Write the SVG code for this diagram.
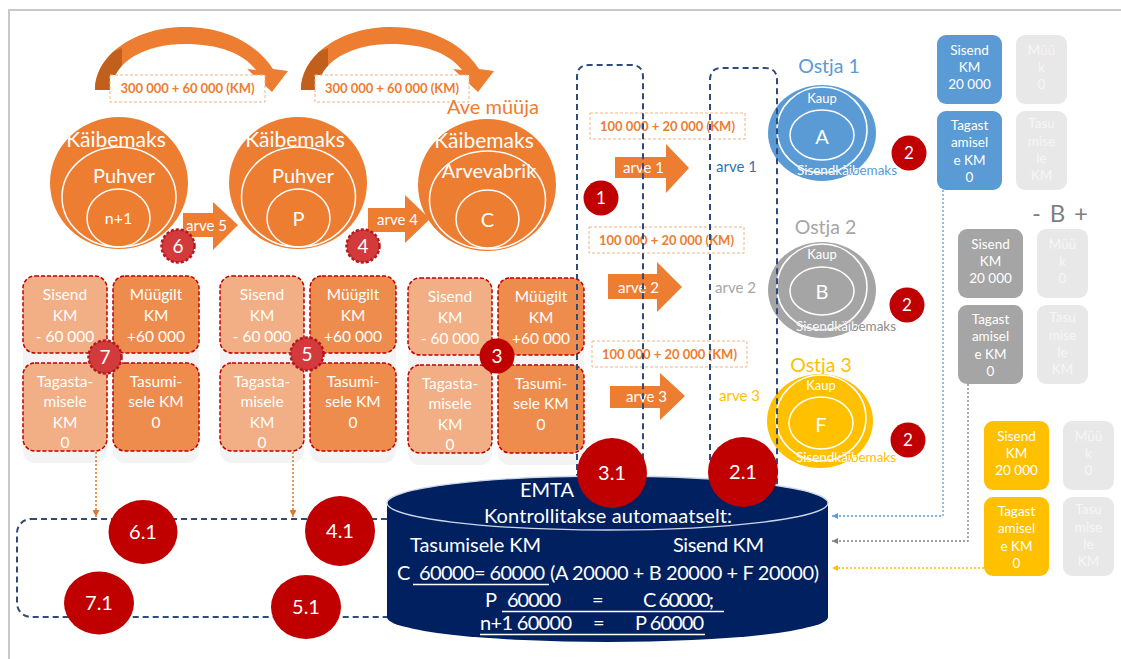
<svg xmlns="http://www.w3.org/2000/svg" width="1121" height="659" viewBox="0 0 1121 659">
<defs>
<style>
text { font-family: Lato, "Liberation Sans", sans-serif; }
.mid { text-anchor: middle; }
.wt { fill: #fff; }
.orange { fill: #ed7d31; }
.ring { fill: none; stroke: #fff; stroke-width: 1.5; }
.lblbox { fill: #fff; stroke: #f4b183; stroke-width: 1; stroke-dasharray: 3 2; }
.lbl { font-size: 13px; font-weight: 700; fill: #ed7d31; text-anchor: middle; }
.back { fill: #f3f3f3; }
.tl { fill: #f2ae84; stroke: #c00000; stroke-width: 1.5; stroke-dasharray: 4 2; }
.tr { fill: #ee8c4d; stroke: #c00000; stroke-width: 1.5; stroke-dasharray: 4 2; }
.tt { font-size: 15.5px; fill: #fff; text-anchor: middle; }
.bt { font-size: 13.5px; fill: #fff; text-anchor: middle; }
.ft { font-size: 13.5px; fill: #f6f6f6; text-anchor: middle; }
.faint { fill: #e8e8e8; }
.navy { fill: none; stroke: #2f4b7c; stroke-width: 2; stroke-dasharray: 6 4; }
.red { fill: #c00000; }
.redd { fill: #d23a3c; stroke: #b3191e; stroke-width: 2.5; stroke-dasharray: 3 2; }
.num { fill: #fff; text-anchor: middle; }
.cyl { fill: #002060; }
.ct { font-size: 20px; fill: #fff; }
.ul { stroke: #fff; stroke-width: 1.3; }
</style>
<marker id="ah-orange" viewBox="0 0 6 6" refX="6" refY="3" markerWidth="7" markerHeight="7" markerUnits="userSpaceOnUse" orient="auto">
  <path d="M0 0 L6 3 L0 6 Z" fill="#d97a2e"/>
</marker>
<marker id="ah-blue" viewBox="0 0 6 6" refX="6" refY="3" markerWidth="6" markerHeight="6" markerUnits="userSpaceOnUse" orient="auto">
  <path d="M0 0 L6 3 L0 6 Z" fill="#5b9bd5"/>
</marker>
<marker id="ah-gray" viewBox="0 0 6 6" refX="6" refY="3" markerWidth="6" markerHeight="6" markerUnits="userSpaceOnUse" orient="auto">
  <path d="M0 0 L6 3 L0 6 Z" fill="#7f7f7f"/>
</marker>
<marker id="ah-gold" viewBox="0 0 6 6" refX="6" refY="3" markerWidth="6" markerHeight="6" markerUnits="userSpaceOnUse" orient="auto">
  <path d="M0 0 L6 3 L0 6 Z" fill="#ffc000"/>
</marker>
<clipPath id="curl-back"><polygon points="88,95 122,95 122,48 92,60"/></clipPath>
<!-- curved transfer arrow above the seller circles -->
<g id="curl">
  <path id="curl-band" class="orange" d="M 95 90 C 95 55, 135 27, 185 27 C 228 27, 258 46, 273 69 L 288 71 L 272 92 L 247 69 L 256 70 C 243 53, 218 44, 185 44 C 145 44, 112 62, 112 90 Z"/>
  <path fill="#c1601d" clip-path="url(#curl-back)" d="M 95 90 C 95 55, 135 27, 185 27 L 185 44 C 145 44, 112 62, 112 90 Z"/>
</g>
<!-- one 2x2 block of VAT tiles -->
<g id="kmtiles">
  <rect class="back" x="23" y="300" width="84" height="163" rx="12"/>
  <rect class="back" x="113" y="300" width="86" height="163" rx="12"/>
  <rect class="tl" x="23" y="276" width="84" height="77" rx="12"/>
  <rect class="tr" x="113" y="276" width="86" height="77" rx="12"/>
  <rect class="tl" x="23" y="363" width="84" height="88" rx="12"/>
  <rect class="tr" x="113" y="363" width="86" height="88" rx="12"/>
  <text class="tt" x="65" y="300">Sisend</text>
  <text class="tt" x="65" y="321">KM</text>
  <text class="tt" x="65" y="342">- 60 000</text>
  <text class="tt" x="156" y="300">Müügilt</text>
  <text class="tt" x="156" y="321">KM</text>
  <text class="tt" x="156" y="342">+60 000</text>
  <text class="tt" x="65" y="387">Tagasta-</text>
  <text class="tt" x="65" y="407">misele</text>
  <text class="tt" x="65" y="428">KM</text>
  <text class="tt" x="65" y="448">0</text>
  <text class="tt" x="156" y="387">Tasumi-</text>
  <text class="tt" x="156" y="407">sele KM</text>
  <text class="tt" x="156" y="428">0</text>
</g>
<!-- buyer's VAT tiles, fill set per buyer -->
<g id="buyertiles">
  <rect x="937" y="35" width="65" height="69" rx="9"/>
  <rect x="937" y="111" width="65" height="79" rx="9"/>
  <rect class="faint" x="1016" y="35" width="51" height="69" rx="9"/>
  <rect class="faint" x="1016" y="111" width="51" height="79" rx="9"/>
  <text class="bt" x="969.5" y="55">Sisend</text>
  <text class="bt" x="969.5" y="72">KM</text>
  <text class="bt" x="969.5" y="89">20 000</text>
  <text class="bt" x="969.5" y="130">Tagast</text>
  <text class="bt" x="969.5" y="147">amisel</text>
  <text class="bt" x="969.5" y="165">e KM</text>
  <text class="bt" x="969.5" y="182">0</text>
  <text class="ft" x="1041.5" y="55">Müü</text>
  <text class="ft" x="1041.5" y="72">k</text>
  <text class="ft" x="1041.5" y="89">0</text>
  <text class="ft" x="1041.5" y="128">Tasu</text>
  <text class="ft" x="1041.5" y="146">mise</text>
  <text class="ft" x="1041.5" y="163">le</text>
  <text class="ft" x="1041.5" y="180">KM</text>
</g>
<clipPath id="clipA"><ellipse cx="822" cy="133" rx="54" ry="48"/></clipPath>
<clipPath id="clipB"><ellipse cx="822" cy="290" rx="54" ry="48"/></clipPath>
<clipPath id="clipF"><ellipse cx="820" cy="421" rx="53" ry="47"/></clipPath>
</defs>

<!-- page frame -->
<rect x="9" y="10" width="1130" height="670" fill="#fff" stroke="#c8c8c8" stroke-width="2"/>

<!-- transfers between sellers -->
<g id="transfer-1">
  <use href="#curl"/>
  <rect class="lblbox" x="110" y="75" width="155" height="27"/>
  <text class="lbl" x="187.5" y="93" textLength="134">300 000 + 60 000 (KM)</text>
</g>
<g id="transfer-2">
  <use href="#curl" transform="translate(206,0)"/>
  <rect class="lblbox" x="315" y="75" width="154" height="27"/>
  <text class="lbl" x="392" y="93" textLength="134">300 000 + 60 000 (KM)</text>
</g>

<!-- VAT tile blocks -->
<g id="km-n1"><use href="#kmtiles"/></g>
<g id="km-p"><use href="#kmtiles" transform="translate(197,0)"/></g>
<g id="km-c"><use href="#kmtiles" transform="translate(385,2)"/></g>

<!-- seller n+1 -->
<g id="seller-n1">
  <ellipse class="orange" cx="119" cy="183" rx="69" ry="66"/>
  <ellipse class="ring" cx="119" cy="197" rx="57" ry="50"/>
  <ellipse class="ring" cx="118.5" cy="218" rx="31.5" ry="29"/>
  <text class="wt mid" x="116" y="147" font-size="21">Käibemaks</text>
  <text class="wt mid" x="124" y="183" font-size="20">Puhver</text>
  <text class="wt mid" x="118.5" y="224" font-size="16">n+1</text>
</g>
<!-- seller P -->
<g id="seller-p">
  <ellipse class="orange" cx="298" cy="183" rx="69" ry="66"/>
  <ellipse class="ring" cx="298.5" cy="197" rx="57" ry="50"/>
  <ellipse class="ring" cx="298.5" cy="218" rx="31.5" ry="29"/>
  <text class="wt mid" x="295" y="147" font-size="21">Käibemaks</text>
  <text class="wt mid" x="303" y="183" font-size="20">Puhver</text>
  <text class="wt mid" x="298.5" y="226" font-size="20">P</text>
</g>
<!-- seller C -->
<g id="seller-c">
  <text class="mid" x="493" y="114" font-size="20" fill="#ed7d31">Ave müüja</text>
  <ellipse class="orange" cx="487" cy="185" rx="69" ry="66"/>
  <ellipse class="ring" cx="487.5" cy="200" rx="58" ry="49"/>
  <ellipse class="ring" cx="487.5" cy="219" rx="31.5" ry="29"/>
  <text class="wt mid" x="484" y="148" font-size="21">Käibemaks</text>
  <text class="wt mid" x="489" y="178" font-size="20">Arvevabrik</text>
  <text class="wt mid" x="487.5" y="227" font-size="20">C</text>
</g>

<!-- invoice arrows between sellers -->
<g id="arve-5">
  <polygon class="orange" points="183,213 213,213 213,202 238,225 213,250 213,237 183,237"/>
  <text class="wt" x="186" y="231" font-size="15">arve 5</text>
</g>
<g id="arve-4">
  <polygon class="orange" points="368,208 405,208 405,195 430,219 405,243 405,232 368,232"/>
  <text class="wt" x="377" y="225" font-size="15">arve 4</text>
</g>

<!-- invoices to buyers -->
<g id="invoices">
  <rect class="lblbox" x="590" y="113" width="155" height="26"/>
  <text class="lbl" x="667.5" y="131" textLength="135">100 000 + 20 000 (KM)</text>
  <rect class="lblbox" x="589" y="227" width="155" height="26"/>
  <text class="lbl" x="666.5" y="245" textLength="135">100 000 + 20 000 (KM)</text>
  <rect class="lblbox" x="592" y="341" width="155" height="26"/>
  <text class="lbl" x="669.5" y="359" textLength="135">100 000 + 20 000 (KM)</text>

  <polygon class="orange" points="615,157 666,157 666,144 689,168 666,193 666,178 615,178"/>
  <text class="wt" x="623" y="173" font-size="15">arve 1</text>
  <polygon class="orange" points="608,274 657,274 657,262 682,287 657,312 657,299 608,299"/>
  <text class="wt" x="618" y="293" font-size="15">arve 2</text>
  <polygon class="orange" points="610,386 660,386 660,373 685,396 660,420 660,408 610,408"/>
  <text class="wt" x="626" y="402" font-size="15">arve 3</text>

  <text x="716" y="172" font-size="15" fill="#2e75b6">arve 1</text>
  <text x="715" y="293" font-size="15" fill="#a6a6a6">arve 2</text>
  <text x="719" y="401" font-size="15" fill="#ffc000">arve 3</text>
</g>

<!-- buyer 1 -->
<g id="buyer-1">
  <text class="mid" x="829" y="73" font-size="19.5" fill="#5b9bd5">Ostja 1</text>
  <ellipse cx="822" cy="133" rx="54" ry="48" fill="#5b9bd5"/>
  <ellipse class="ring" cx="822" cy="130" rx="45" ry="43"/>
  <ellipse class="ring" cx="822" cy="135" rx="32" ry="25"/>
  <text class="wt mid" x="822" y="103" font-size="13">Kaup</text>
  <text class="wt mid" x="822" y="144" font-size="20">A</text>
  <text x="797" y="175" font-size="13.5" fill="#5b9bd5" textLength="100">Sisendkäibemaks</text>
  <text x="797" y="175" font-size="13.5" fill="#fff" textLength="100" clip-path="url(#clipA)">Sisendkäibemaks</text>
</g>
<!-- buyer 2 -->
<g id="buyer-2">
  <text class="mid" x="825.5" y="234" font-size="19.5" fill="#a6a6a6">Ostja 2</text>
  <ellipse cx="822" cy="290" rx="54" ry="48" fill="#a5a5a5"/>
  <ellipse class="ring" cx="822" cy="287" rx="45" ry="43"/>
  <ellipse class="ring" cx="822" cy="291" rx="32" ry="24"/>
  <text class="wt mid" x="822" y="259" font-size="13">Kaup</text>
  <text class="wt mid" x="822" y="299" font-size="20">B</text>
  <text x="796" y="331" font-size="13.5" fill="#8c8c8c" textLength="100">Sisendkäibemaks</text>
  <text x="796" y="331" font-size="13.5" fill="#fff" textLength="100" clip-path="url(#clipB)">Sisendkäibemaks</text>
</g>
<!-- buyer 3 -->
<g id="buyer-3">
  <text class="mid" x="821" y="372" font-size="19.5" fill="#ffc000">Ostja 3</text>
  <ellipse cx="820" cy="421" rx="53" ry="47" fill="#ffc000"/>
  <ellipse class="ring" cx="821" cy="418" rx="45" ry="43"/>
  <ellipse class="ring" cx="821" cy="423" rx="32" ry="26"/>
  <text class="wt mid" x="821" y="390" font-size="13">Kaup</text>
  <text class="wt mid" x="821" y="432" font-size="20">F</text>
  <text x="796" y="462" font-size="13.5" fill="#ffc000" textLength="100">Sisendkäibemaks</text>
  <text x="796" y="462" font-size="13.5" fill="#fff" textLength="100" clip-path="url(#clipF)">Sisendkäibemaks</text>
</g>

<!-- buyer VAT tiles -->
<g id="km-buyer-1" fill="#5b9bd5"><use href="#buyertiles"/></g>
<g id="km-buyer-2" fill="#a5a5a5"><use href="#buyertiles" transform="translate(21,194)"/></g>
<g id="km-buyer-3" fill="#ffc000"><use href="#buyertiles" transform="translate(47,386)"/></g>
<text x="1060" y="222" font-size="24" fill="#7f7f7f" text-anchor="middle" textLength="56">- B +</text>

<!-- connectors -->
<g id="connectors">
  <path class="navy" d="M 577 500 V 77 Q 577 65 589 65 H 631 Q 643 65 643 77 V 500"/>
  <path class="navy" d="M 710 500 V 80 Q 710 68 722 68 H 765 Q 777 68 777 80 V 500"/>
  <rect class="navy" x="17" y="519" width="420" height="98" rx="14"/>
  <line x1="96" y1="452" x2="96" y2="517" stroke="#d97a2e" stroke-width="1.5" stroke-dasharray="2 2" marker-end="url(#ah-orange)"/>
  <line x1="293" y1="452" x2="293" y2="517" stroke="#d97a2e" stroke-width="1.5" stroke-dasharray="2 2" marker-end="url(#ah-orange)"/>
  <path d="M 943 190 V 516 H 832" fill="none" stroke="#5b9bd5" stroke-width="1.3" stroke-dasharray="2 2" marker-end="url(#ah-blue)"/>
  <path d="M 968 384 V 541 H 832" fill="none" stroke="#7f7f7f" stroke-width="1.3" stroke-dasharray="2 2" marker-end="url(#ah-gray)"/>
  <path d="M 984 568 H 832" fill="none" stroke="#ffc000" stroke-width="1.3" stroke-dasharray="2 2" marker-end="url(#ah-gold)"/>
</g>

<!-- tax authority database -->
<g id="emta">
  <path class="cyl" d="M 387 503 L 387 617 A 220.5 25 0 0 0 828 617 L 828 503 Z"/>
  <ellipse class="cyl" cx="607.5" cy="503" rx="220.5" ry="27" stroke="#cdd6e8" stroke-width="1.3"/>
  <text class="ct mid" x="547" y="497">EMTA</text>
  <text class="ct mid" x="608" y="523" textLength="248">Kontrollitakse automaatselt:</text>
  <text class="ct" x="410" y="552" textLength="131">Tasumisele KM</text>
  <text class="ct" x="673" y="552" textLength="91">Sisend KM</text>
  <text class="ct" x="397" y="580">C</text>
  <text class="ct" x="419" y="580" textLength="126">60000= 60000</text>
  <text class="ct" x="550" y="580" textLength="269">(A 20000 + B 20000 + F 20000)</text>
  <line class="ul" x1="413" y1="584.5" x2="549" y2="584.5"/>
  <text class="ct" x="485" y="607">P</text>
  <text class="ct" x="507" y="607" textLength="54">60000</text>
  <text class="ct" x="592" y="607">=</text>
  <text class="ct" x="643" y="607" textLength="71">C 60000;</text>
  <line class="ul" x1="502" y1="611.5" x2="724" y2="611.5"/>
  <text class="ct" x="480" y="630" textLength="92">n+1 60000</text>
  <text class="ct" x="593" y="630">=</text>
  <text class="ct" x="635" y="630" textLength="69">P 60000</text>
  <line class="ul" x1="480" y1="634.5" x2="705" y2="634.5"/>
</g>

<!-- step markers -->
<g id="step-1"><circle class="red" cx="601" cy="198" r="17.5"/><text class="num" x="601" y="204" font-size="17">1</text></g>
<g id="step-2a"><circle class="red" cx="909" cy="153" r="17.5"/><text class="num" x="909" y="159" font-size="17">2</text></g>
<g id="step-2b"><circle class="red" cx="907" cy="305" r="17.5"/><text class="num" x="907" y="311" font-size="17">2</text></g>
<g id="step-2c"><circle class="red" cx="908" cy="440" r="17.5"/><text class="num" x="908" y="446" font-size="17">2</text></g>
<g id="step-3"><circle class="red" cx="497" cy="356" r="17.5"/><text class="num" x="497" y="363" font-size="19">3</text></g>
<g id="step-4"><circle class="redd" cx="363" cy="246" r="16.5"/><text class="num" x="363" y="253" font-size="19">4</text></g>
<g id="step-5"><circle class="redd" cx="307" cy="354" r="16.5"/><text class="num" x="307" y="361" font-size="19">5</text></g>
<g id="step-6"><circle class="redd" cx="178" cy="246" r="16.5"/><text class="num" x="178" y="253" font-size="19">6</text></g>
<g id="step-7"><circle class="redd" cx="105" cy="357" r="16.5"/><text class="num" x="105" y="364" font-size="19">7</text></g>
<g id="step-3-1"><circle class="red" cx="612" cy="473" r="35"/><text class="num" x="612" y="480" font-size="20">3.1</text></g>
<g id="step-2-1"><circle class="red" cx="743" cy="472" r="35"/><text class="num" x="743" y="479" font-size="20">2.1</text></g>
<g id="step-6-1"><ellipse class="red" cx="143" cy="532" rx="34.5" ry="32"/><text class="num" x="143" y="539" font-size="20">6.1</text></g>
<g id="step-4-1"><ellipse class="red" cx="340" cy="531" rx="35" ry="35"/><text class="num" x="340" y="538" font-size="20">4.1</text></g>
<g id="step-7-1"><ellipse class="red" cx="99" cy="603" rx="35" ry="31.5"/><text class="num" x="99" y="610" font-size="20">7.1</text></g>
<g id="step-5-1"><ellipse class="red" cx="306" cy="607" rx="35" ry="32"/><text class="num" x="306" y="614" font-size="20">5.1</text></g>
</svg>
